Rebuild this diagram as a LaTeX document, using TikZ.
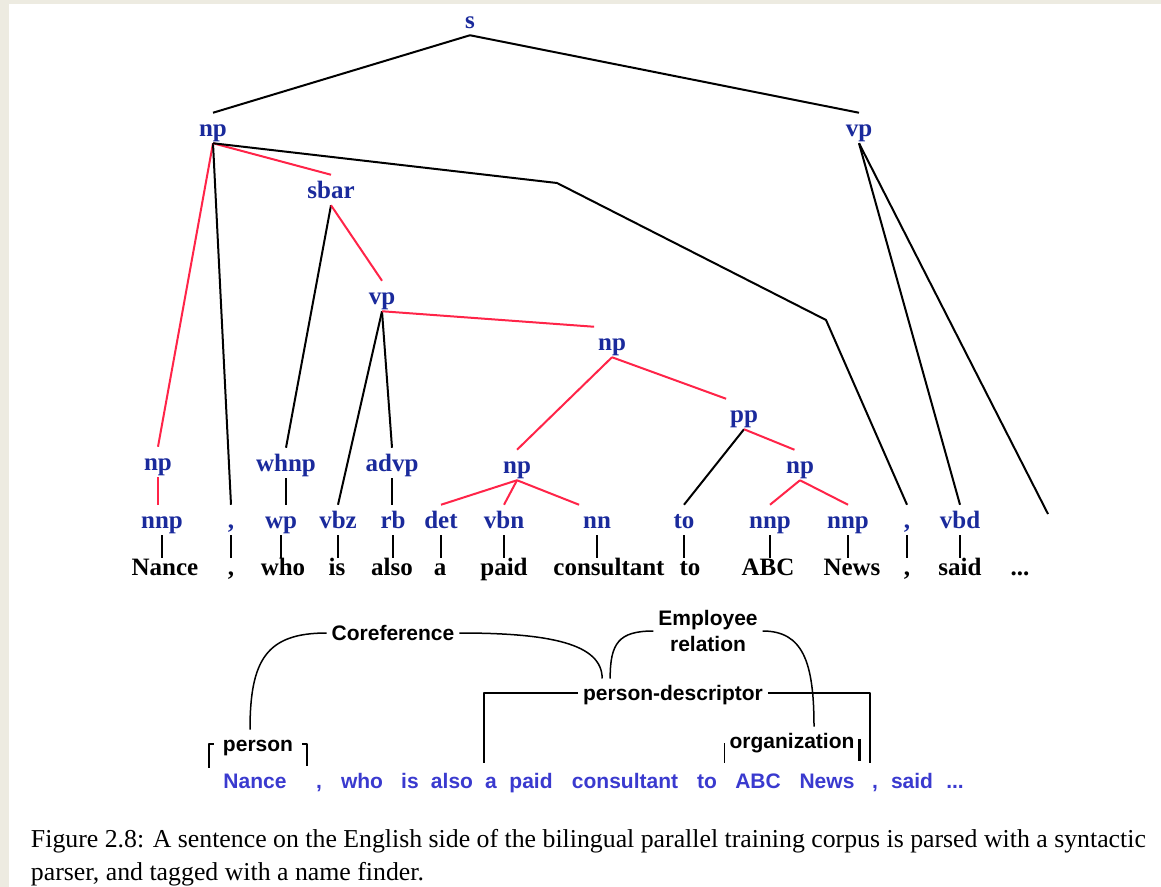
\documentclass[tikz,border=0pt]{standalone}
\usepackage{fontspec}
\setmainfont{Liberation Serif}
\newfontfamily\labelfont{Liberation Sans}
\usepackage{xcolor}
\usetikzlibrary{calc}

\definecolor{tagblue}{HTML}{1A2A9C}
\definecolor{wordblue}{HTML}{3A3ACF}
\definecolor{headred}{HTML}{FF2448}
\definecolor{pagegray}{HTML}{EDEBE1}

\begin{document}
\begin{tikzpicture}[x=0.5pt,y=-0.5pt,line width=1pt,line join=round,
    cat/.style={font=\bfseries\fontsize{12.5}{15}\selectfont,text=tagblue,inner sep=1.5pt,text height=10pt,text depth=1.25pt},
    tok/.style={cat,text=black},
    ne/.style={font=\labelfont\bfseries\fontsize{10.5}{13}\selectfont,inner sep=2pt,text height=8.5pt,text depth=1pt},
    sent/.style={ne,text=wordblue},
    hd/.style={draw=headred},
    leaf/.style={line width=0.75pt,shorten >=-3pt},
    rel/.style={line width=0.75pt}]
  \fill[pagegray] (0,0) rectangle (1161,887);
  \fill[white] (9,4) rectangle (1161,887);
  \useasboundingbox (0,0) rectangle (1161,887);

  % parse tree
  \node[cat] (S) at (470,20) {s};
  \node[cat] (NP) at (213,128) {np};
  \node[cat] (VP) at (859,128) {vp};
  \node[cat] (SBAR) at (331,190) {sbar};
  \node[cat] (VPrel) at (382,296) {vp};
  \node[cat] (NPobj) at (612,342) {np};
  \node[cat] (PP) at (744,414) {pp};
  \node[cat] (NPname) at (158,462) {np};
  \node[cat] (WHNP) at (286,463) {whnp};
  \node[cat] (ADVP) at (392,463) {advp};
  \node[cat] (NPdesc) at (517,465) {np};
  \node[cat] (NPorg) at (800,465) {np};

  \node[cat] (tNance) at (162,520) {nnp};
  \node[cat] (tcA) at (231,520) {,};
  \node[cat] (twho) at (281,520) {wp};
  \node[cat] (tis) at (338,520) {vbz};
  \node[cat] (talso) at (393,520) {rb};
  \node[cat] (ta) at (441,520) {det};
  \node[cat] (tpaid) at (504,520) {vbn};
  \node[cat] (tcons) at (597,520) {nn};
  \node[cat] (tto) at (684,520) {to};
  \node[cat] (tabc) at (770,520) {nnp};
  \node[cat] (tnews) at (848,520) {nnp};
  \node[cat] (tcB) at (907,520) {,};
  \node[cat] (tsaid) at (960,520) {vbd};

  \node[tok] (wNance) at (165,567) {Nance};
  \node[tok] (wcA) at (231,567) {,};
  \node[tok] (wwho) at (283,567) {who};
  \node[tok] (wis) at (337,567) {is};
  \node[tok] (walso) at (392,567) {also};
  \node[tok] (wa) at (440,567) {a};
  \node[tok] (wpaid) at (504,567) {paid};
  \node[tok] (wcons) at (609,567) {consultant};
  \node[tok] (wto) at (690,567) {to};
  \node[tok] (wabc) at (768,567) {ABC};
  \node[tok] (wnews) at (852,567) {News};
  \node[tok] (wcB) at (907,567) {,};
  \node[tok] (wsaid) at (960,567) {said};
  \node[tok] (wdots) at (1020,567) {...};

  \coordinate (bendA) at (557,183);
  \coordinate (bendB) at (826,320);
  \coordinate (vpend) at (1048,514);

  \draw (S.south) -- (NP.north);
  \draw (S.south) -- (VP.north);
  \draw[hd] (NP.south) -- (NPname.north);
  \draw (NP.south) -- (tcA.north);
  \draw[hd] (NP.south) -- (SBAR.north);
  \draw (NP.south) -- (bendA) -- (bendB) -- (tcB.north);
  \draw (VP.south) -- (tsaid.north);
  \draw (VP.south) -- (vpend);
  \draw (SBAR.south) -- (WHNP.north);
  \draw[hd] (SBAR.south) -- (VPrel.north);
  \draw (VPrel.south) -- (tis.north);
  \draw (VPrel.south) -- (ADVP.north);
  \draw[hd] (VPrel.south) -- (NPobj.north west);
  \draw[hd] (NPobj.south) -- (NPdesc.north);
  \draw[hd] (NPobj.south) -- (PP.north west);
  \draw (PP.south) -- (tto.north);
  \draw[hd] (PP.south) -- (NPorg.110);
  \draw[hd] (NPdesc.south) -- (ta.north);
  \draw[hd] (NPdesc.south) -- (tpaid.north);
  \draw[hd] (NPdesc.south) -- (tcons.north west);
  \draw[hd] (NPorg.south) -- (tabc.north);
  \draw[hd] (NPorg.south) -- (tnews.north);
  \draw[hd] (NPname.south) -- (NPname.south |- tNance.north);
  \draw (WHNP.south) -- (WHNP.south |- twho.north);
  \draw (ADVP.south) -- (ADVP.south |- talso.north);
  \foreach \w in {Nance,cA,who,is,also,a,paid,cons,to,abc,news,cB,said}
    \draw[leaf] (t\w.south) -- (t\w.south |- w\w.north);

  % name finder output
  \node[ne] (coref) at (393,633) {Coreference};
  \node[ne,align=center,text height={},text depth={}] (emp) at (708,631) {Employee\\relation};
  \node[ne] (pdesc) at (673,693) {person-descriptor};
  \node[ne] (person) at (258,744) {person};
  \node[ne] (org) at (792,741) {organization};

  \foreach \x/\w [count=\i] in {255/Nance,319/{,},362/who,410/is,452/also,491/a,531/paid,625/consultant,707/to,758/ABC,827/News,875/{,},912/said}
    \node[sent] (s\i) at (\x,781) {\w};
  \node[sent] (sdots) at (955,781) {...};

  \coordinate (pdL) at (484,763);
  \coordinate (pdR) at (870,763);

  \draw[rel] (coref.west) .. controls +(-60,0) and +(0,-70) .. ([xshift=-4pt]person.north);
  \draw[rel] (coref.east) .. controls +(90,0) and +(0,-35) .. ([xshift=12pt]pdesc.north west);
  \draw[rel] (emp.west) .. controls +(-35,0) and +(0,-35) .. ([xshift=16pt]pdesc.north west);
  \draw[rel] (emp.east) .. controls +(40,0) and +(0,-65) .. ([xshift=11pt]org.north);
  \draw[rel] (pdesc.west) -| (pdL);
  \draw[rel] (pdesc.east) -| (pdR);
  \draw[rel] ([xshift=-2pt]person.west) -- ++(-5,0) -- ++(0,24);
  \draw[rel] ([xshift=2pt]person.east) -- ++(5,0) -- ++(0,22);
  \draw[rel] ([yshift=-1pt]org.west) -- ++(0,20);
  \draw[line width=1.2pt] ([yshift=1pt]org.east) -- ++(0,22);

  \node[anchor=base west,inner sep=0,font=\fontsize{12.9}{15}\selectfont] (capA) at (30,847)
    {Figure 2.8: A sentence on the English side of the bilingual parallel training corpus is parsed with a syntactic};
  \node[anchor=base west,inner sep=0,font=\fontsize{12.9}{15}\selectfont] (capB) at (30,880)
    {parser, and tagged with a name finder.};
\end{tikzpicture}
\end{document}
